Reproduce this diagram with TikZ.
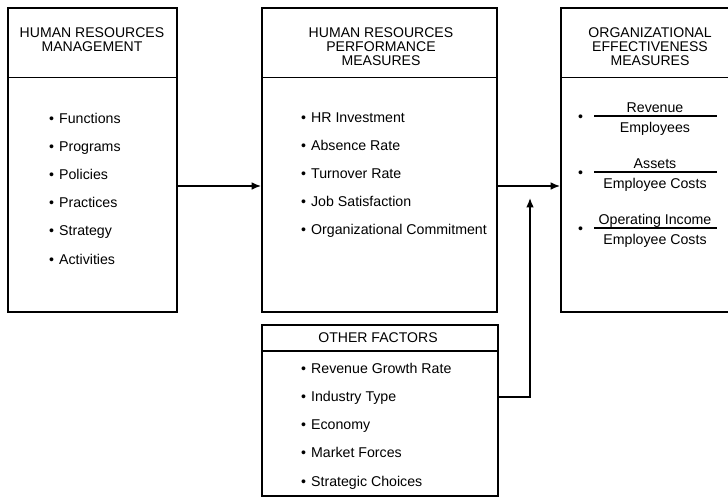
\documentclass[tikz,border=0pt]{standalone}
\usepackage{fontspec}
\setmainfont{Liberation Sans}
\usetikzlibrary{arrows.meta,fit}

\tikzset{
  panel/.style={draw, line width=1.6pt, inner sep=0pt},
  rule/.style={line width=1.6pt},
  ratioline/.style={line width=1.2pt},
  head/.style={anchor=north, align=center, inner sep=0pt, font=\fontsize{12}{12.3}\selectfont},
  item/.style={anchor=base west, inner sep=0pt, font=\fontsize{12.1}{13}\selectfont},
  flow/.style={line width=1.2pt, -{Latex[length=8pt,width=6.5pt]}}
}

\begin{document}
\begin{tikzpicture}[x=0.03cm, y=-0.03cm]
            % Define frame and coordinates
            \clip (0,0) rectangle (728,497);
            \coordinate (cut) at (0,77.5);
            \coordinate (link) at (0,186);
            \coordinate (feed) at (0,397);
            \coordinate (tee) at (530,198);

            % Draw boxes
            \node[panel, fit={(8,8) (177,312)}] (hrm) {};
            \node[panel, fit={(262,8) (497,312)}] (hrp) {};
            \node[panel, fit={(561,8) (740,312)}] (oem) {};
            \node[panel, fit={(262,325) (498,496)}] (ofs) {};
            \foreach \b in {hrm,hrp,oem} {
                \draw[rule] (\b.west |- cut) -- (\b.east |- cut);
            }
            \draw[rule] (ofs.west |- 0,351) -- (ofs.east |- 0,351);

            % Headers
            \node[head] (hrm-t) at (92,27) {HUMAN RESOURCES\\MANAGEMENT};
            \node[head] (hrp-t) at (381,27) {HUMAN RESOURCES\\PERFORMANCE\\MEASURES};
            \node[head] (oem-t) at (650,27) {ORGANIZATIONAL\\EFFECTIVENESS\\MEASURES};
            \node[head, anchor=center] (ofs-t) at (378,338) {OTHER FACTORS};

            % Bullet lists
            \foreach \i/\txt in {0/Functions, 1/Programs, 2/Policies, 3/Practices, 4/Strategy, 5/Activities} {
                \node[item] (hrm\i) at (49,123+28.2*\i) {\textbullet\hspace{0.35em}\txt};
            }
            \foreach \i/\txt in {0/HR Investment, 1/Absence Rate, 2/Turnover Rate, 3/Job Satisfaction, 4/Organizational Commitment} {
                \node[item] (hrp\i) at (301,122+28.2*\i) {\textbullet\hspace{0.35em}\txt};
            }
            \foreach \i/\txt in {0/Revenue Growth Rate, 1/Industry Type, 2/Economy, 3/Market Forces, 4/Strategic Choices} {
                \node[item] (ofs\i) at (301,373+28.3*\i) {\textbullet\hspace{0.35em}\txt};
            }

            % Ratios
            \foreach \i/\num/\den/\y in {1/Revenue/Employees/116, 2/Assets/Employee Costs/172, 3/Operating Income/Employee Costs/228} {
                \coordinate (r\i) at (655,\y);
                \draw[ratioline] (594,\y) -- (717,\y);
                \node[item, anchor=base] (num\i) at (655,\y-4) {\num};
                \node[item, anchor=base] (den\i) at (655,\y+16.5) {\den};
                \node[item] (dot\i) at (578,\y+5) {\textbullet};
            }

            % Draw arrows
            \draw[flow] (hrm.east |- link) -- (hrp.west |- link);
            \draw[flow] (hrp.east |- link) -- (oem.west |- link);
            \draw[flow] (ofs.east |- feed) -| (tee);

        \end{tikzpicture}
\end{document}
